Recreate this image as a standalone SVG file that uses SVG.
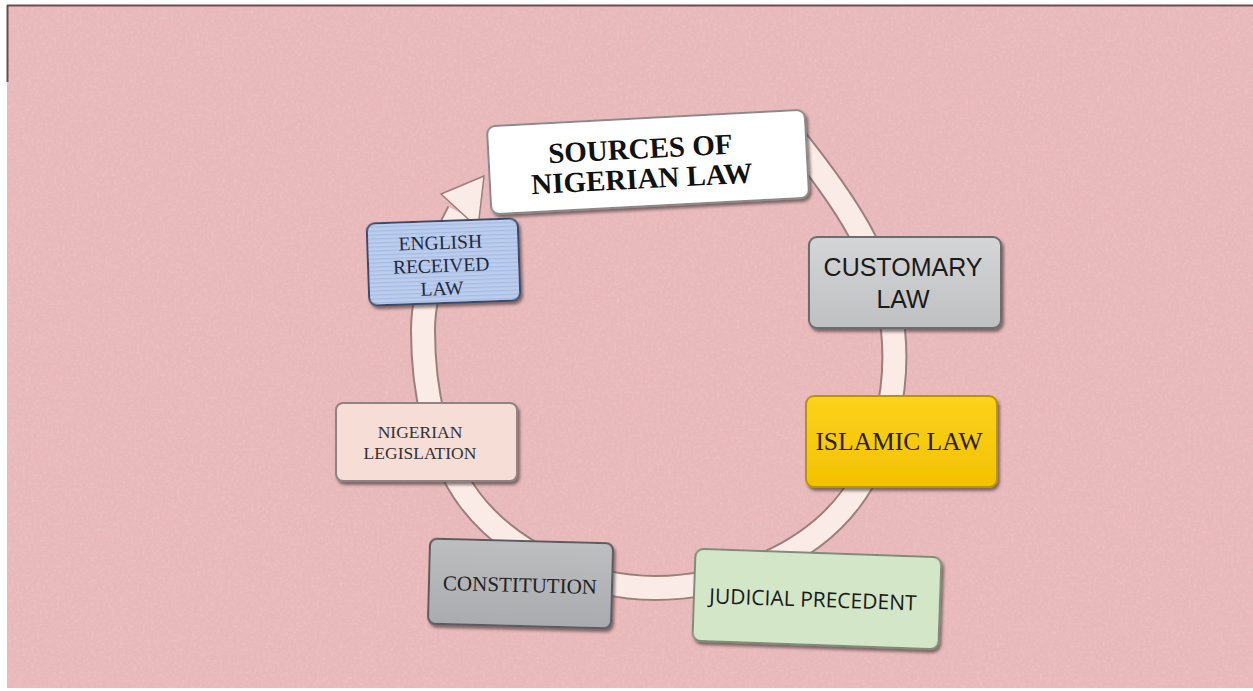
<svg xmlns="http://www.w3.org/2000/svg" width="1253" height="691" viewBox="0 0 1253 691">
<defs>
<style>
.box{stroke-width:2}
.serif{font-family:"Liberation Serif","Times New Roman",serif;text-anchor:middle}
.sans{font-family:"Open Sans","Liberation Sans",Arial,sans-serif;text-anchor:middle}
.arial{font-family:"Liberation Sans",Arial,sans-serif;text-anchor:middle}
.ringOut{fill:none;stroke:#9c7f7a;stroke-width:26}
.ringIn{fill:none;stroke:#fbebe6;stroke-width:22}
</style>
<filter id="noise" x="0" y="0" width="100%" height="100%">
<feTurbulence type="fractalNoise" baseFrequency="0.35" numOctaves="2" seed="4" result="n"/>
<feColorMatrix type="matrix" values="0 0 0 0 1  0 0 0 0 1  0 0 0 0 1  0 0 0 0.9 -0.35" in="n"/>
</filter>
<filter id="sh" x="-10%" y="-10%" width="125%" height="130%">
<feDropShadow dx="2" dy="3" stdDeviation="1.5" flood-color="#3a2a2a" flood-opacity="0.6"/>
</filter>
<linearGradient id="gGrey" x1="0" y1="0" x2="0" y2="1">
<stop offset="0" stop-color="#d4d5d6"/><stop offset="1" stop-color="#bfc0c1"/>
</linearGradient>
<linearGradient id="gGold" x1="0" y1="0" x2="0" y2="1">
<stop offset="0" stop-color="#fbd21c"/><stop offset="1" stop-color="#f3c200"/>
</linearGradient>
<linearGradient id="gCon" x1="0" y1="0" x2="0" y2="1">
<stop offset="0" stop-color="#bcbec0"/><stop offset="1" stop-color="#a9abae"/>
</linearGradient>
<pattern id="stripes" width="6" height="4" patternUnits="userSpaceOnUse">
<rect width="6" height="4" fill="#bccdee"/>
<rect width="6" height="1.3" fill="#a7bce3"/>
</pattern>
</defs>

<!-- background -->
<rect width="1253" height="691" fill="#ffffff"/>
<rect x="7" y="5" width="1246" height="683" fill="#e8b8ba"/>
<rect x="7" y="5" width="1246" height="683" filter="url(#noise)" opacity="0.25"/>
<line x1="7" y1="5.5" x2="1253" y2="5.5" stroke="#6e4a4c" stroke-width="2"/>
<line x1="7.5" y1="5" x2="7.5" y2="82" stroke="#6e4a4c" stroke-width="2"/>

<!-- connectors: circular arrow ring -->
<g id="connectors">
<path class="ringOut" d="M 796 140 C 840 195, 886 259, 893 330 C 899 388, 885 454, 850 500 C 807 557, 726 588, 655 588 C 587 588, 511 554, 470 500 C 435 453, 423 389, 423 330 C 423 290, 440 248, 459 212"/>
<path class="ringIn" d="M 796 140 C 840 195, 886 259, 893 330 C 899 388, 885 454, 850 500 C 807 557, 726 588, 655 588 C 587 588, 511 554, 470 500 C 435 453, 423 389, 423 330 C 423 290, 440 248, 459 212"/>
<polygon points="441,194 484,176 478,228" fill="#fbebe6" stroke="#9c7f7a" stroke-width="1.5"/>
</g>

<!-- title -->
<g id="title" transform="rotate(-3 648 162)">
<rect class="box" x="489" y="118" width="318" height="88" rx="8" fill="#ffffff" stroke="#8a8a8a" filter="url(#sh)"/>
<text class="serif" x="641" y="158" font-size="29" font-weight="bold" fill="#111">SOURCES OF</text>
<text class="serif" x="641" y="188" font-size="29" font-weight="bold" fill="#111">NIGERIAN LAW</text>
</g>

<!-- English received law -->
<g id="english" transform="rotate(-2 443 262)">
<rect class="box" x="368" y="221" width="151" height="82" rx="8" fill="url(#stripes)" stroke="#3c4a68" filter="url(#sh)"/>
<text class="serif" x="441" y="249" font-size="19.5" fill="#1f2a40">ENGLISH</text>
<text class="serif" x="441" y="272" font-size="19.5" fill="#1f2a40">RECEIVED</text>
<text class="serif" x="441" y="295" font-size="19.5" fill="#1f2a40">LAW</text>
</g>

<!-- Customary law -->
<g id="customary">
<rect class="box" x="809" y="237" width="192" height="91" rx="8" fill="url(#gGrey)" stroke="#6c6c6c" filter="url(#sh)"/>
<text class="arial" x="903" y="276" font-size="25" fill="#1a1a1a">CUSTOMARY</text>
<text class="arial" x="903" y="308" font-size="25" fill="#1a1a1a">LAW</text>
</g>

<!-- Islamic law -->
<g id="islamic">
<rect class="box" x="806" y="396" width="191" height="91" rx="8" fill="url(#gGold)" stroke="#b99500" filter="url(#sh)"/>
<text class="serif" x="899" y="450" font-size="25.5" fill="#2a2000">ISLAMIC LAW</text>
</g>

<!-- Nigerian legislation -->
<g id="legislation">
<rect class="box" x="336" y="403" width="181" height="78" rx="7" fill="#f6ddd6" stroke="#8f8482" filter="url(#sh)"/>
<text class="serif" x="420" y="438" font-size="17.5" fill="#333">NIGERIAN</text>
<text class="serif" x="420" y="459" font-size="17.5" fill="#333">LEGISLATION</text>
</g>

<!-- Constitution -->
<g id="constitution" transform="rotate(1.5 521 584)">
<rect class="box" x="429" y="541" width="183" height="85" rx="7" fill="url(#gCon)" stroke="#5a5c5f" filter="url(#sh)"/>
<text class="serif" x="520" y="592" font-size="21" fill="#222">CONSTITUTION</text>
</g>

<!-- Judicial precedent -->
<g id="judicial" transform="rotate(2 817 598)">
<rect class="box" x="694" y="553" width="246" height="92" rx="8" fill="#d3e6c8" stroke="#7e8c78" filter="url(#sh)"/>
<text class="sans" x="813" y="607" font-size="21" fill="#1a1a1a">JUDICIAL PRECEDENT</text>
</g>
</svg>
